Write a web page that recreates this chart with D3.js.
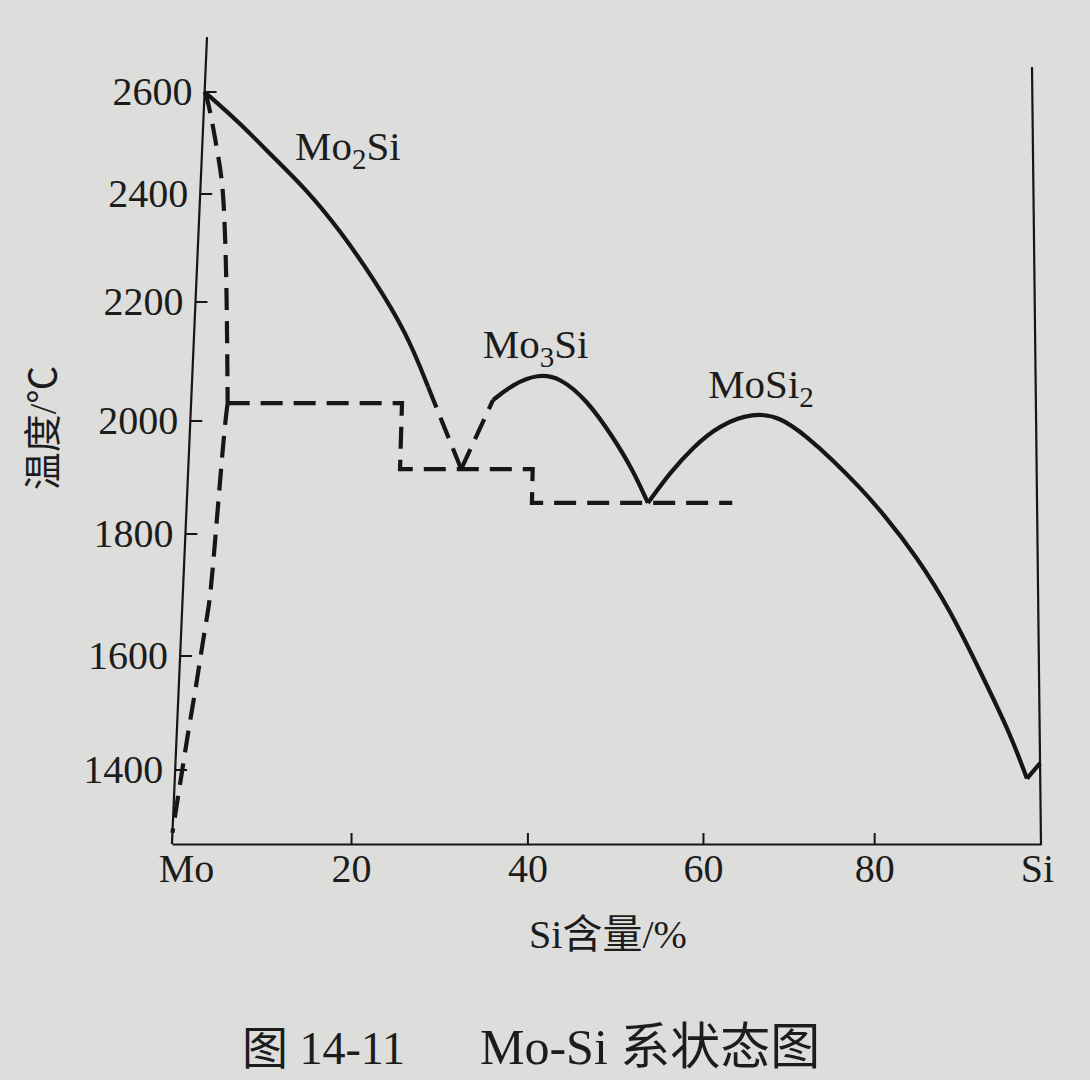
<!DOCTYPE html>
<html>
<head>
<meta charset="utf-8">
<script src="https://cdn.jsdelivr.net/npm/d3@7"></script>
<style>
  html, body { margin: 0; padding: 0; background: #dddddb; }
  svg { display: block; }
  text { fill: #1c1c1c; font-family: "Liberation Serif", "Noto Sans CJK SC", serif; }
</style>
</head>
<body>
<svg id="chart" width="1090" height="1080"></svg>
<script>
// ---------- data ----------
const xTickValues = [0, 20, 40, 60, 80, 100];
const xTickLabels = ["Mo", "20", "40", "60", "80", "Si"];
const yTickValues = [1400, 1600, 1800, 2000, 2200, 2400, 2600];

// liquidus, Mo-rich branch (solid part)
const liquidusMo2Si = [[0,2600],[4.3,2539],[8.3,2473],[12.4,2408],[16.4,2333],[20.4,2246],[24.6,2148],[27.3,2057]];
// dashed continuation down to the eutectic
const liquidusMo2SiDashed = [[27.3,2057],[31.4,1915]];
const liquidusMo3SiDashed = [[31.4,1915],[34.9,2035]];
// Mo3Si dome
const liquidusMo3Si = [[34.9,2035],[37.2,2062],[40.1,2079],[42.7,2073],[45.9,2035],[49.0,1972],[51.4,1913],[53.2,1855]];
// MoSi2 dome down to the Si-side eutectic
const liquidusMoSi2 = [[53.2,1855],[55.7,1908],[58.4,1954],[61.5,1993],[65.5,2014],[68.8,2007],[72.0,1972],[75.1,1931],[78.3,1883],[81.1,1837],[85.3,1762],[89.3,1675],[93.2,1563],[96.4,1465],[98.4,1385]];
const liquidusSi = [[98.4,1385],[100,1412]];
// Mo solid-solution boundary (dashed)
const solidusMoUpper = [[0,2600],[0.45,2584],[1.7,2492],[2.5,2427],[2.9,2365],[3.5,2241],[4.2,2030]];
const solidusMoLower = [[4.2,2030],[3.9,1979],[3.2,1703],[2.9,1670],[2.3,1598],[1.9,1540],[1.3,1470],[0.8,1400],[0.4,1347],[0,1290]];
// eutectic / peritectic steps (dashed)
const eutecticSteps = [[4.2,2030],[24.3,2030],[24.3,1915],[39.7,1915],[39.7,1855],[63.1,1855]];

const phaseLabels = [
  { main: "Mo", sub: "2", tail: "Si", x: 10.9, t: 2467 },
  { main: "Mo", sub: "3", tail: "Si", x: 33.6, t: 2106 },
  { main: "MoSi", sub: "2", tail: "", x: 60.1, t: 2039 }
];

// ---------- scales ----------
const svg = d3.select("#chart");
const fracScale = d3.scaleLinear().domain(xTickValues).range([0, 0.206, 0.409, 0.611, 0.808, 1]);
const yScale = d3.scaleLinear().domain(yTickValues).range([770, 656, 534, 421, 302, 194, 92]);
// photographed frame: left and right borders lean slightly
const leftEdge = d3.scaleLinear().domain([843, 37]).range([172, 207]);
const rightEdge = d3.scaleLinear().domain([845, 67]).range([1041, 1032]);
const xBottom = d3.scaleLinear().domain(xTickValues).range(fracScale.range().map(f => 172 + f * 869));

function P(d) {
  const py = yScale(d[1]);
  const L = leftEdge(py), R = rightEdge(py);
  return [L + fracScale(d[0]) * (R - L), py];
}

const ink = "#161616";

// ---------- frame ----------
svg.append("line")
  .attr("x1", leftEdge(37)).attr("y1", 37)
  .attr("x2", leftEdge(844)).attr("y2", 844)
  .attr("stroke", ink).attr("stroke-width", 2.2);
svg.append("line")
  .attr("x1", rightEdge(67)).attr("y1", 67)
  .attr("x2", rightEdge(845)).attr("y2", 845)
  .attr("stroke", ink).attr("stroke-width", 2.2);

// bottom axis
const xAxis = d3.axisBottom(xBottom)
  .tickValues(xTickValues)
  .tickFormat((d, i) => xTickLabels[i])
  .tickSizeInner(-11).tickSizeOuter(0).tickPadding(10);
const gx = svg.append("g").attr("transform", "translate(0,844)").call(xAxis);
gx.select(".domain").attr("stroke", ink).attr("stroke-width", 2.2);
gx.selectAll(".tick line").attr("stroke", ink).attr("stroke-width", 2)
  .attr("opacity", d => (d === 0 || d === 100) ? 0 : 1);
gx.selectAll(".tick text")
  .attr("font-family", "Liberation Serif, serif")
  .attr("font-size", 40).attr("fill", "#1c1c1c")
  .attr("dx", d => d === 0 ? 14 : (d === 100 ? -4 : 0));

// left axis (ticks follow the leaning border)
const yAxis = d3.axisLeft(yScale)
  .tickValues(yTickValues)
  .tickFormat(d3.format("d"))
  .tickSizeInner(-12).tickSizeOuter(0).tickPadding(12);
const gy = svg.append("g").call(yAxis);
gy.select(".domain").remove();
gy.selectAll(".tick").attr("transform", d => `translate(${leftEdge(yScale(d))},${yScale(d)})`);
gy.selectAll(".tick line").attr("stroke", ink).attr("stroke-width", 2);
gy.selectAll(".tick text")
  .attr("font-family", "Liberation Serif, serif")
  .attr("font-size", 40).attr("fill", "#1c1c1c");

// ---------- curves ----------
const smooth = d3.line().x(d => P(d)[0]).y(d => P(d)[1]).curve(d3.curveBasis);
const straight = d3.line().x(d => P(d)[0]).y(d => P(d)[1]);

function draw(data, gen, dashed) {
  svg.append("path")
    .attr("d", gen(data))
    .attr("fill", "none")
    .attr("stroke", ink)
    .attr("stroke-width", 4.2)
    .attr("stroke-linejoin", "miter")
    .attr("stroke-dasharray", dashed ? "22,11" : null);
}
draw(liquidusMo2Si, smooth, false);
draw(liquidusMo2SiDashed, straight, true);
draw(liquidusMo3SiDashed, straight, true);
draw(liquidusMo3Si, smooth, false);
draw(liquidusMoSi2, smooth, false);
draw(liquidusSi, straight, false);
draw(solidusMoUpper, smooth, true);
draw(solidusMoLower, smooth, true);
draw(eutecticSteps, straight, true);

// ---------- phase labels ----------
phaseLabels.forEach(l => {
  const p = P([l.x, l.t]);
  const t = svg.append("text").attr("x", p[0]).attr("y", p[1])
    .attr("font-size", 41).attr("font-family", "Liberation Serif, serif");
  t.append("tspan").text(l.main);
  t.append("tspan").text(l.sub).attr("font-size", 29).attr("dy", 9);
  if (l.tail) t.append("tspan").text(l.tail).attr("dy", -9);
});

// ---------- titles ----------
svg.append("text")
  .attr("x", 608).attr("y", 948)
  .attr("text-anchor", "middle")
  .attr("font-size", 40)
  .text("Si含量/%");

svg.append("text")
  .attr("transform", "translate(56,428) rotate(-90)")
  .attr("text-anchor", "middle")
  .attr("font-size", 38)
  .text("温度/℃");

svg.append("text")
  .attr("x", 242).attr("y", 1064)
  .attr("font-size", 46)
  .text("图 14-11");
svg.append("text")
  .attr("x", 480).attr("y", 1064)
  .attr("font-size", 50)
  .text("Mo-Si 系状态图");
</script>
</body>
</html>
